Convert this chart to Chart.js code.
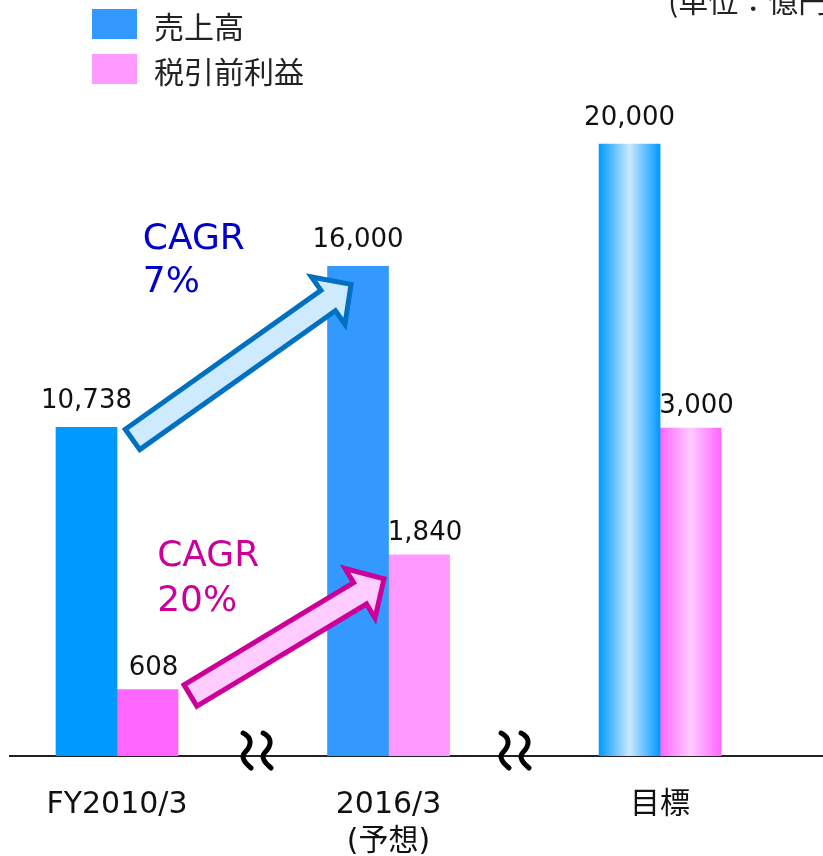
<!DOCTYPE html>
<html lang="ja">
<head>
<meta charset="utf-8">
<title>売上高・税引前利益</title>
<script src="https://cdn.jsdelivr.net/npm/chart.js@4.4.1/dist/chart.umd.min.js"></script>
<style>
  html, body { margin: 0; padding: 0; background: #fff; }
  #wrap { position: relative; width: 823px; height: 856px; }
</style>
</head>
<body>
<div id="wrap"><canvas id="chart"></canvas></div>
<script>
// data
const categories = ["FY2010/3", ["2016/3", "(予想)"], "目標"];
const salesValues = [10738, 16000, 20000];
const profitValues = [608, 1840, 3000];
const seriesNames = ["売上高", "税引前利益"];
const salesCagr = ["CAGR", "7%"];
const profitCagr = ["CAGR", "20%"];
const unitLabel = "(単位：億円)";

const LATIN = "'DejaVu Sans', 'Noto Sans CJK JP', sans-serif";
const CJK = "'Noto Sans CJK JP', 'DejaVu Sans', sans-serif";
const BAR_W = 61;

// null = gradient bar (目標)
const salesColors = ["#0099ff", "#3399ff", null];
const profitColors = ["#ff66ff", "#ff99ff", null];
const legendColors = ["#3399ff", "#ff99ff"];

function fmt(n) {
  return Number(n).toLocaleString("en-US");
}

function barColor(colors, edge, mid, side) {
  return (ctx) => {
    const c = colors[ctx.dataIndex];
    if (c) return c;
    const chart = ctx.chart;
    if (!chart.chartArea || !chart.scales.x) return edge;
    const px = chart.scales.x.getPixelForValue(ctx.dataIndex);
    const x0 = side < 0 ? px - BAR_W : px;
    const g = chart.ctx.createLinearGradient(x0, 0, x0 + BAR_W, 0);
    g.addColorStop(0, edge);
    g.addColorStop(0.5, mid);
    g.addColorStop(1, edge);
    return g;
  };
}

function blockArrow(ctx, x0, y0, x1, y1, fill, stroke) {
  const dx = x1 - x0, dy = y1 - y0;
  const len = Math.hypot(dx, dy);
  const ux = dx / len, uy = dy / len;
  const nx = -uy, ny = ux;
  const sw = 12.5, hw = 29, hl = 28;
  const bx = x1 - ux * hl, by = y1 - uy * hl;
  const pts = [
    [x0 + nx * sw, y0 + ny * sw],
    [bx + nx * sw, by + ny * sw],
    [bx + nx * hw, by + ny * hw],
    [x1, y1],
    [bx - nx * hw, by - ny * hw],
    [bx - nx * sw, by - ny * sw],
    [x0 - nx * sw, y0 - ny * sw],
  ];
  ctx.save();
  ctx.beginPath();
  pts.forEach(([x, y], i) => (i ? ctx.lineTo(x, y) : ctx.moveTo(x, y)));
  ctx.closePath();
  ctx.fillStyle = fill;
  ctx.fill();
  ctx.lineWidth = 5;
  ctx.lineJoin = "miter";
  ctx.strokeStyle = stroke;
  ctx.stroke();
  ctx.restore();
}

// wavy break mark: bulges right on top, left at the bottom
function squiggle(ctx, cx, top, bottom) {
  const mid = top + (bottom - top) * 0.55;
  ctx.beginPath();
  ctx.moveTo(cx - 4, top);
  ctx.bezierCurveTo(cx + 6, top + 5, cx + 4, mid - 6, cx - 2, mid);
  ctx.bezierCurveTo(cx - 7, mid + 5, cx - 2, bottom - 5, cx + 4, bottom);
  ctx.stroke();
}

const decorations = {
  id: "decorations",
  afterDatasetsDraw(chart) {
    const { ctx, scales } = chart;
    const sales = chart.getDatasetMeta(0).data;
    const profit = chart.getDatasetMeta(1).data;

    // arrows between FY2010/3 and 2016/3
    blockArrow(ctx, sales[0].x + 46, sales[0].y + 12, sales[1].x - 7, sales[1].y + 18, "#cdeaff", "#0070c0");
    blockArrow(ctx, profit[0].x + 43, profit[0].y + 6, profit[1].x - 35, profit[1].y + 24, "#ffccff", "#cc0099");

    // value labels
    ctx.save();
    ctx.fillStyle = "#111";
    ctx.font = `26px ${LATIN}`;
    ctx.textAlign = "center";
    ctx.textBaseline = "alphabetic";
    sales.forEach((el, i) => ctx.fillText(fmt(salesValues[i]), el.x, el.y - 19));
    profit.forEach((el, i) => ctx.fillText(fmt(profitValues[i]), el.x + 6, el.y - 15));

    // CAGR notes
    ctx.textAlign = "left";
    ctx.font = `36px ${LATIN}`;
    ctx.fillStyle = "#0000cc";
    const bx = scales.x.getPixelForValue(0.095);
    const by = scales.y.getPixelForValue(16560);
    salesCagr.forEach((t, i) => ctx.fillText(t, bx, by + i * 43));
    ctx.fillStyle = "#cc0099";
    const px = scales.x.getPixelForValue(0.148);
    const py = scales.y2.getPixelForValue(1740);
    profitCagr.forEach((t, i) => ctx.fillText(t, px, py + i * 45));

    // axis break marks
    ctx.strokeStyle = "#000";
    ctx.lineWidth = 5;
    ctx.lineCap = "round";
    const base = scales.y.getPixelForValue(0);
    [0.516, 1.466].forEach((v) => {
      const cx = scales.x.getPixelForValue(v);
      squiggle(ctx, cx - 10, base - 23, base + 12);
      squiggle(ctx, cx + 10, base - 23, base + 12);
    });
    ctx.restore();
  },
  afterDraw(chart) {
    const { ctx } = chart;
    ctx.save();
    // legend
    ctx.font = `30px ${CJK}`;
    ctx.textBaseline = "middle";
    ctx.textAlign = "left";
    seriesNames.forEach((name, i) => {
      ctx.fillStyle = legendColors[i];
      ctx.fillRect(92, 9 + i * 45, 45, 30);
      ctx.fillStyle = "#222";
      ctx.fillText(name, 154, 27 + i * 45);
    });
    // unit (runs off the right edge like the original)
    ctx.font = `30px ${CJK}`;
    ctx.textBaseline = "alphabetic";
    ctx.fillStyle = "#222";
    ctx.fillText(unitLabel, 668, 12);
    ctx.restore();
  },
};

new Chart(document.getElementById("chart"), {
  type: "bar",
  data: {
    datasets: [
      {
        label: seriesNames[0],
        data: salesValues.map((v, i) => ({ x: i, y: v })),
        backgroundColor: barColor(salesColors, "#0099ff", "#cce8ff", -1),
        yAxisID: "y",
        barThickness: BAR_W,
      },
      {
        label: seriesNames[1],
        data: profitValues.map((v, i) => ({ x: i, y: v })),
        backgroundColor: barColor(profitColors, "#ff66ff", "#ffccff", 1),
        yAxisID: "y2",
        barThickness: BAR_W,
      },
    ],
  },
  options: {
    responsive: true,
    maintainAspectRatio: false,
    animation: false,
    layout: { padding: { left: 10, right: 0, top: 0, bottom: 0 } },
    plugins: { legend: { display: false }, tooltip: { enabled: false } },
    scales: {
      x: {
        type: "linear",
        offset: false,
        min: -0.394,
        max: 2.6,
        afterBuildTicks: (s) => {
          s.ticks = categories.map((_, i) => ({ value: i }));
        },
        afterFit: (s) => {
          s.height = 100;
        },
        grid: { display: false, drawTicks: false },
        border: { display: true, color: "#222", width: 2 },
        ticks: {
          autoSkip: false,
          maxRotation: 0,
          padding: 30,
          color: "#111",
          font: { family: LATIN, size: 30, lineHeight: 1.25 },
          callback: (v) => (Number.isInteger(v) ? categories[v] : ""),
        },
      },
      y: { display: false, min: 0, max: 24706 },
      y2: { display: false, min: 0, max: 6915 },
    },
  },
  plugins: [decorations],
});
</script>
</body>
</html>
